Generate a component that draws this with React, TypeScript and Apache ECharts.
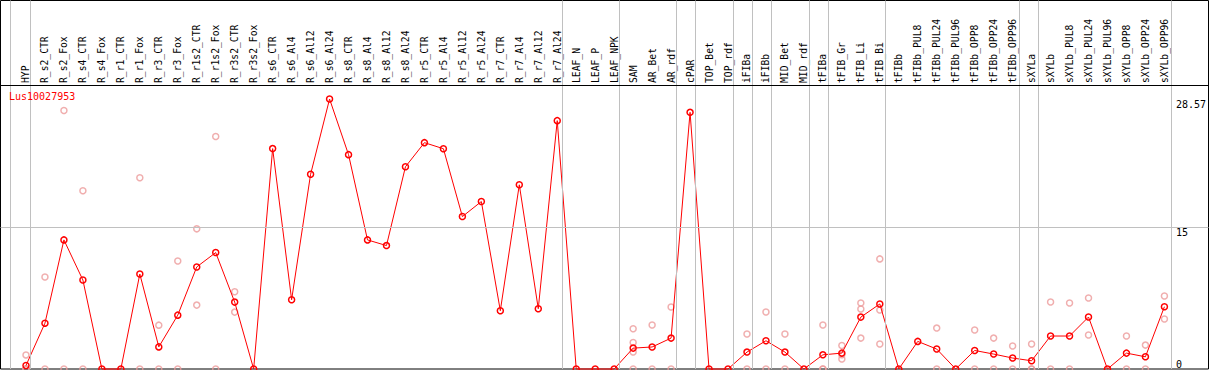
import React, { useEffect, useRef } from "react";
import * as echarts from "echarts";

const geneName = "Lus10027953";

const categories = [
  "HYP", "R_s2_CTR", "R_s2_Fox", "R_s4_CTR", "R_s4_Fox", "R_r1_CTR", "R_r1_Fox",
  "R_r3_CTR", "R_r3_Fox", "R_r1s2_CTR", "R_r1s2_Fox", "R_r3s2_CTR", "R_r3s2_Fox",
  "R_s6_CTR", "R_s6_Al4", "R_s6_Al12", "R_s6_Al24", "R_s8_CTR", "R_s8_Al4", "R_s8_Al12",
  "R_s8_Al24", "R_r5_CTR", "R_r5_Al4", "R_r5_Al12", "R_r5_Al24", "R_r7_CTR", "R_r7_Al4",
  "R_r7_Al12", "R_r7_Al24", "LEAF_N", "LEAF_P", "LEAF_NPK", "SAM", "AR_Bet", "AR_rdf",
  "cPAR", "TOP_Bet", "TOP_rdf", "iFIBa", "iFIBb", "MID_Bet", "MID_rdf", "tFIBa",
  "tFIB_Gr", "tFIB_Li", "tFIB_Bi", "tFIBb", "tFIBb_PUL8", "tFIBb_PUL24", "tFIBb_PUL96",
  "tFIBb_OPP8", "tFIBb_OPP24", "tFIBb_OPP96", "sXYLa", "sXYLb", "sXYLb_PUL8",
  "sXYLb_PUL24", "sXYLb_PUL96", "sXYLb_OPP8", "sXYLb_OPP24", "sXYLb_OPP96",
];

const meanValues = [
  0.37, 4.85, 13.66, 9.41, 0, 0, 10.05,
  2.34, 5.7, 10.8, 12.32, 7.08, 0,
  23.32, 7.33, 20.6, 28.57, 22.68, 13.66, 13.06,
  21.4, 23.95, 23.31, 16.13, 17.72, 6.17, 19.49,
  6.38, 26.28, 0, 0, 0, 2.21, 2.33, 3.27,
  27.16, 0, 0, 1.79, 2.99, 1.79, 0, 1.5,
  1.68, 5.49, 6.88, 0, 2.92, 2.11, 0,
  1.96, 1.58, 1.16, 0.87, 3.49, 3.49,
  5.5, 0, 1.68, 1.29, 6.59,
];

const replicateValues: number[][] = [
  [1.49, 0, 0, 0], [9.73, 0], [27.36, 0], [18.86, 0], [], [], [20.24, 0],
  [4.64, 0], [11.43, 0], [14.83, 6.76], [24.6, 0], [8.18, 6.02], [],
  [], [], [], [], [], [], [],
  [], [], [], [], [], [], [],
  [], [], [], [], [], [4.26, 2.81, 1.8, 0], [4.65, 0], [6.56, 0],
  [], [], [], [3.7, 0], [6.03, 0], [3.7, 0], [], [4.65, 0, 0],
  [2.49, 1.5, 1.05], [6.98, 6.35, 3.27], [11.65, 6.24, 2.64], [], [], [4.33, 0], [],
  [4.12, 0], [3.27, 0], [2.43, 0], [2.64, 0, 0], [7.09, 0], [6.98, 0],
  [7.51, 3.59], [], [3.49, 0], [2.53, 0], [7.73, 5.29],
];

const yTickMax = 28.57;
const yTickStep = 15;

// group separators: after each of these categories
const groupEnds = [
  "HYP", "R_r7_Al24", "LEAF_NPK", "AR_rdf", "cPAR", "TOP_rdf", "iFIBa", "iFIBb",
  "MID_rdf", "tFIBa", "tFIB_Bi", "tFIBb_OPP96", "sXYLa", "sXYLb_OPP96",
];

const MONO = "'DejaVu Sans Mono', 'Liberation Mono', monospace";

export default function App() {
  const ref = useRef<HTMLDivElement>(null);

  useEffect(() => {
    if (!ref.current) return;
    const chart = echarts.init(ref.current, null, { renderer: "svg" });

    const step = 19.011;
    const firstX = 26;
    const gridLeft = firstX - step / 2;
    const gridWidth = step * categories.length;
    const plotTop = 99;
    const plotBottom = 369;
    const k = (plotBottom - plotTop) / yTickMax;

    const frameLeft = 0.5;
    const frameTop = 0.5;
    const frameWidth = 1208;
    const frameXMin = (frameLeft - firstX) / step;
    const frameXMax = frameXMin + frameWidth / step;
    const frameYMax = (plotBottom - frameTop) / k;
    const headerValue = (plotBottom - 85) / k;

    const separators = [-0.84, ...groupEnds.map((c) => categories.indexOf(c) + 0.22)];

    const scatterData: number[][] = [];
    replicateValues.forEach((reps, i) => {
      reps.forEach((v) => scatterData.push([i, v]));
    });

    chart.setOption({
      animation: false,
      backgroundColor: "#ffffff",
      title: {
        text: geneName,
        left: 9,
        top: 91,
        padding: 0,
        textStyle: { color: "#ff0000", fontSize: 10, fontWeight: "normal", fontFamily: MONO },
      },
      grid: [
        {
          left: frameLeft,
          top: frameTop,
          width: frameWidth,
          height: plotBottom - frameTop,
          show: true,
          borderColor: "#000000",
          borderWidth: 1,
          backgroundColor: "transparent",
        },
        {
          left: gridLeft,
          top: plotTop,
          width: gridWidth,
          height: plotBottom - plotTop,
          show: false,
        },
      ],
      xAxis: [
        { type: "value", gridIndex: 0, min: frameXMin, max: frameXMax, show: false },
        {
          type: "category",
          gridIndex: 1,
          data: categories,
          position: "top",
          boundaryGap: true,
          axisLine: { show: false },
          axisTick: { show: false },
          splitLine: { show: false },
          axisLabel: {
            interval: 0,
            rotate: 90,
            margin: 16,
            fontSize: 9.7,
            fontFamily: MONO,
            color: "#000000",
          },
        },
      ],
      yAxis: [
        { type: "value", gridIndex: 0, min: 0, max: frameYMax, show: false },
        {
          type: "value",
          gridIndex: 1,
          min: 0,
          max: yTickMax,
          interval: yTickStep,
          position: "right",
          axisLine: { show: false },
          axisTick: { show: false },
          splitLine: { show: false },
          axisLabel: {
            margin: 2,
            fontSize: 10,
            fontFamily: MONO,
            color: "#000000",
            verticalAlign: "top",
            verticalAlignMinLabel: "bottom",
            formatter: (v: number) => String(+v.toFixed(2)),
          },
        },
      ],
      series: [
        {
          type: "line",
          xAxisIndex: 0,
          yAxisIndex: 0,
          data: [],
          silent: true,
          z: 1,
          markLine: {
            silent: true,
            symbol: ["none", "none"],
            label: { show: false },
            emphasis: { disabled: true },
            lineStyle: { color: "#c0c0c0", width: 1, type: "solid" },
            data: [
              ...separators.map((v) => ({ xAxis: v })),
              { yAxis: yTickStep },
              { yAxis: headerValue, lineStyle: { color: "#000000", width: 1, type: "solid" } },
            ],
          },
        },
        {
          type: "scatter",
          xAxisIndex: 1,
          yAxisIndex: 1,
          data: scatterData,
          symbol: "circle",
          symbolSize: 6,
          clip: false,
          silent: true,
          z: 2,
          itemStyle: { color: "rgba(0,0,0,0)", borderColor: "#ec9a9a", borderWidth: 1.5 },
        },
        {
          type: "line",
          xAxisIndex: 1,
          yAxisIndex: 1,
          data: meanValues,
          symbol: "circle",
          symbolSize: 6,
          showAllSymbol: true,
          clip: false,
          silent: true,
          z: 3,
          lineStyle: { color: "#ff0000", width: 1 },
          itemStyle: { color: "rgba(255,255,255,0)", borderColor: "#ff0000", borderWidth: 1.5 },
        },
      ],
    });

    return () => chart.dispose();
  }, []);

  return (
    <div
      ref={ref}
      style={{ position: "fixed", left: 0, top: 0, width: 1209, height: 370, background: "#ffffff" }}
    />
  );
}
